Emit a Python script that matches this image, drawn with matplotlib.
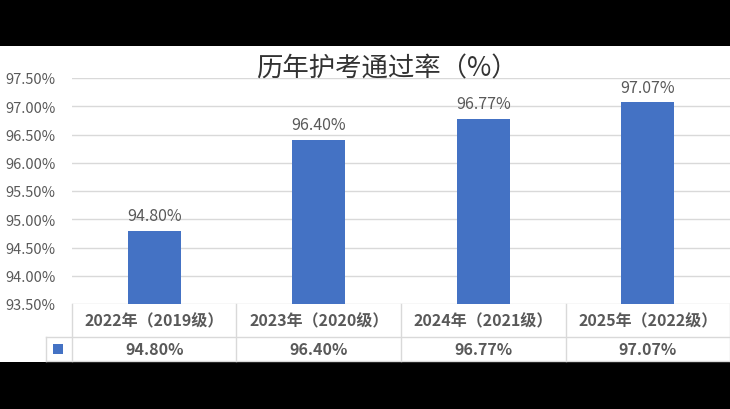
import matplotlib
matplotlib.use('Agg')
import matplotlib.pyplot as plt
from matplotlib.lines import Line2D
from matplotlib.patches import Rectangle

plt.rcParams['font.family'] = ['Noto Sans CJK SC', 'DejaVu Sans']

categories = ['2022年（2019级）', '2023年（2020级）', '2024年（2021级）', '2025年（2022级）']
rates = [94.80, 96.40, 96.77, 97.07]
yticks = [93.5, 94.0, 94.5, 95.0, 95.5, 96.0, 96.5, 97.0, 97.5]

W, H = 730, 410
grey = '#595959'
bar_color = '#4472C4'
line_color = '#D9D9D9'

fig = plt.figure(figsize=(7.3, 4.1), dpi=100)
fig.patch.set_facecolor('black')
# white chart area between the black bands
fig.add_artist(Rectangle((0, 1 - 363 / H), 1, (363 - 47) / H, transform=fig.transFigure,
                         facecolor='white', edgecolor='none', zorder=0))

x0, x1 = 72 / W, 1.0
yb, yt = 1 - 305 / H, 1 - 79 / H
ax = fig.add_axes([x0, yb, x1 - x0, yt - yb])
ax.set_facecolor('white')
n = len(categories)
xs = list(range(n))
ax.bar(xs, rates, width=0.32, color=bar_color, zorder=3)
ax.set_xlim(-0.5, n - 0.5)
ax.set_ylim(93.5, 97.5)
ax.set_yticks(yticks)
ax.set_yticklabels(['%.2f%%' % v for v in yticks], color=grey, fontsize=10.5)
ax.tick_params(axis='y', length=0, pad=12)
ax.set_xticks([])
ax.grid(axis='y', color=line_color, lw=1, zorder=0)
for s in ax.spines.values():
    s.set_visible(False)
for x, v in zip(xs, rates):
    ax.text(x, v + 0.12, '%.2f%%' % v, ha='center', va='bottom', color=grey, fontsize=11.5)

fig.text(0.5 * (x0 + x1) - 0.02, 1 - 69 / H, '历年护考通过率（%）', ha='center', va='center',
         fontsize=19, color='#333333')

# data table below the axis
r0, r1, r2 = 1 - 305 / H, 1 - 338 / H, 1 - 362 / H
lx = 46 / W
cw = (x1 - x0) / n
def hline(y, xa, xb):
    fig.add_artist(Line2D([xa, xb], [y, y], transform=fig.transFigure, color=line_color, lw=1))
def vline(x, ya, yb_):
    fig.add_artist(Line2D([x, x], [ya, yb_], transform=fig.transFigure, color=line_color, lw=1))
hline(r1, lx, x1)
hline(r2, lx, x1)
vline(lx, r1, r2)
for i in range(n + 1):
    vline(x0 + i * cw, r0, r2)
for i, (c, v) in enumerate(zip(categories, rates)):
    cx = x0 + (i + 0.5) * cw
    fig.text(cx, (r0 + r1) / 2, c, ha='center', va='center', color=grey, fontsize=11.5, fontweight='bold')
    fig.text(cx, (r1 + r2) / 2, '%.2f%%' % v, ha='center', va='center', color=grey, fontsize=11.5, fontweight='bold')
fig.add_artist(Rectangle((53 / W, (r1 + r2) / 2 - 5 / H), 10 / W, 10 / H, transform=fig.transFigure,
                         facecolor=bar_color, edgecolor='none'))

fig.savefig('out.png', dpi=100, facecolor=fig.get_facecolor())
